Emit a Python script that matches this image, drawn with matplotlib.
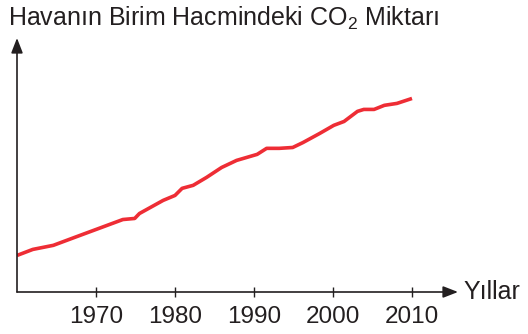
import matplotlib
matplotlib.use("Agg")
import matplotlib.pyplot as plt

# CO2 concentration (ppm) over time
years = [1960, 1962, 1964.6, 1967.3, 1973.4, 1974.9, 1975.5, 1978.5, 1980, 1980.9,
         1982.3, 1984, 1985.9, 1987.8, 1990.4, 1991.6, 1993.2, 1994.9, 1996.2,
         1998.3, 2000.1, 2001.4, 2003.1, 2003.9, 2005.2, 2006.5, 2008.1, 2010]
co2 = [317.0, 319.8, 321.7, 325.4, 333.7, 334.2, 336.5, 342.6, 344.9, 348.2,
       349.6, 353.3, 357.9, 361.2, 364.0, 366.8, 366.8, 367.2, 369.5,
       373.7, 377.5, 379.3, 384.0, 384.9, 384.9, 386.8, 387.7, 390.0]
tick_years = [1970, 1980, 1990, 2000, 2010]
y_title = "Havanın Birim Hacmindeki CO$_2$ Miktarı"
x_title = "Yıllar"

plt.rcParams["font.family"] = ["Liberation Sans", "DejaVu Sans"]
plt.rcParams["mathtext.fontset"] = "custom"
plt.rcParams["mathtext.rm"] = "Liberation Sans"
plt.rcParams["mathtext.default"] = "regular"

W, H = 528, 334
fig = plt.figure(figsize=(W / 100, H / 100), dpi=100)
x0, x1, yb, yt = 17, 458, 292, 38
ax = fig.add_axes([x0 / W, (H - yb) / H, (x1 - x0) / W, (yb - yt) / H])

px_per_year = 7.9
ax.set_xlim(1960, 1960 + (x1 - x0) / px_per_year)
ax.set_ylim(300, 300 + (yb - yt) * 0.465)

ax.plot(years, co2, color="#EE2D35", lw=2.6, solid_joinstyle="round",
        solid_capstyle="butt")

for s in ax.spines.values():
    s.set_visible(False)

axis_color = "#231F20"
arrow = dict(arrowstyle="-|>,head_length=0.9,head_width=0.35", color=axis_color,
             lw=1.2, shrinkA=0, shrinkB=0)
ax.annotate("", xy=(1, 0), xytext=(0, 0), xycoords="axes fraction",
            arrowprops=arrow, annotation_clip=False)
ax.annotate("", xy=(0, 1), xytext=(0, 0), xycoords="axes fraction",
            arrowprops=arrow, annotation_clip=False)

ax.set_yticks([])
ax.set_xticks(tick_years)
ax.set_xticklabels([str(y) for y in tick_years])
ax.tick_params(axis="x", direction="inout", length=7.5, width=1.0,
               color=axis_color, labelsize=17.5, labelcolor=axis_color, pad=6)

fig.text(8 / W, 1 - 26 / H, y_title, fontsize=18, color=axis_color,
         ha="left", va="baseline")
fig.text(463 / W, 1 - 292 / H, x_title, fontsize=18, color=axis_color,
         ha="left", va="center")

fig.savefig("out.png", dpi=100)
